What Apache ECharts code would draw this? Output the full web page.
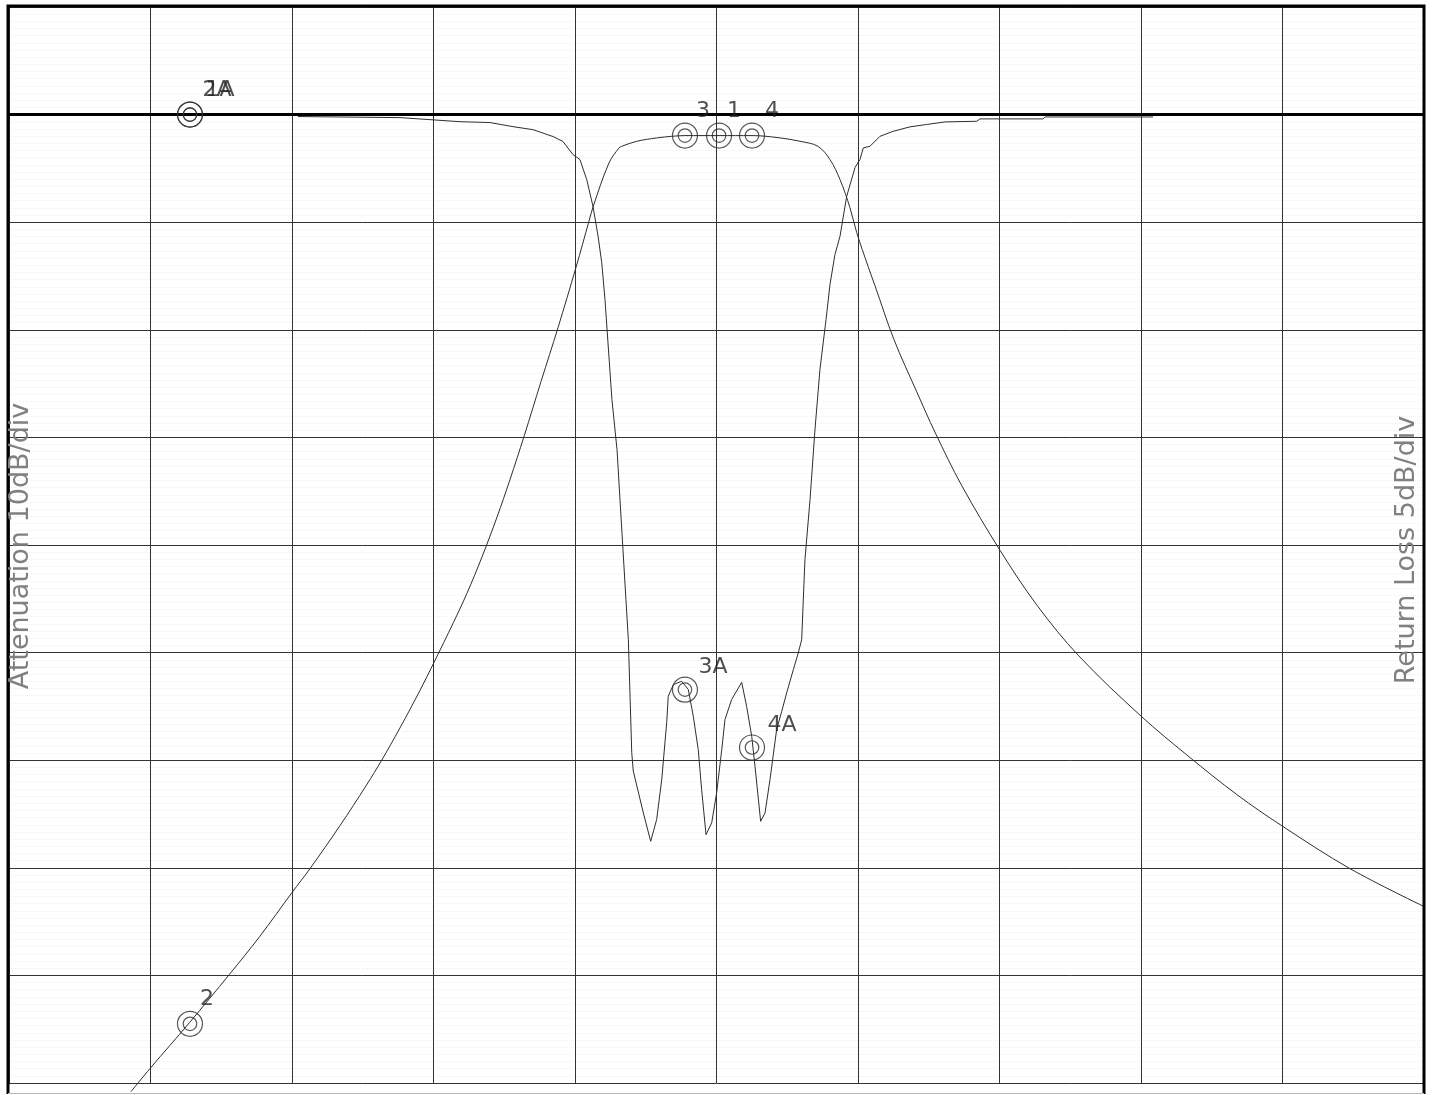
<!DOCTYPE html>
<html>
<head>
<meta charset="utf-8">
<style>
  html, body { margin: 0; padding: 0; background: #fff; }
  #chart { width: 1432px; height: 1095px; }
</style>
<script src="https://cdn.jsdelivr.net/npm/echarts@6/dist/echarts.min.js"></script>
</head>
<body>
<div id="chart"></div>
<script>
// x in divisions (10 horizontal divisions), y in dB
// Attenuation (S21), 10 dB/div, 0 dB at the reference line
const s21 = [
  [0.862,-90.8],[1.0,-88.6],[1.275,-84.4],[1.558,-79.9],[1.771,-76.4],[2.0,-72.3],
  [2.126,-70.1],[2.338,-66.1],[2.527,-62.3],[2.634,-60.0],[2.763,-57.0],[2.905,-53.5],
  [3.004,-50.9],[3.141,-47.2],[3.236,-44.5],[3.343,-41.1],[3.449,-37.4],[3.541,-33.9],
  [3.640,-29.9],[3.760,-24.8],[3.880,-19.8],[4.007,-14.2],[4.099,-9.9],[4.127,-8.6],
  [4.24,-4.5],[4.311,-3.1],[4.33,-2.95],[4.436,-2.48],[4.577,-2.17],[4.683,-2.02],
  [4.777,-1.95],[5.018,-1.95],[5.251,-1.95],[5.435,-2.14],[5.59,-2.48],[5.717,-2.95],
  [5.802,-4.18],[5.873,-6.04],[5.943,-8.64],[5.991,-10.97],[6.071,-14.1],[6.12,-15.9],
  [6.254,-20.9],[6.413,-25.7],[6.547,-29.6],[6.734,-34.5],[7.004,-40.5],[7.265,-45.6],
  [7.56,-50.3],[8.0,-55.9],[8.332,-59.6],[8.678,-63.2],[8.996,-66.1],[9.48,-70.1],
  [10.0,-73.6]
];
// Return loss (S11), 5 dB/div
const s11 = [
  [2.042,-0.09],[2.763,-0.14],[3.187,-0.33],[3.399,-0.37],[3.562,-0.56],[3.703,-0.70],
  [3.845,-1.02],[3.915,-1.25],[3.986,-1.86],[4.035,-2.09],[4.083,-3.02],[4.127,-4.26],
  [4.163,-5.65],[4.189,-6.88],[4.212,-8.6],[4.261,-13.24],[4.297,-15.57],[4.339,-20.21],
  [4.360,-22.54],[4.377,-24.4],[4.401,-29.65],[4.412,-30.51],[4.483,-32.45],[4.535,-33.77],
  [4.577,-32.76],[4.613,-30.9],[4.648,-28.25],[4.659,-27.03],[4.695,-26.49],[4.754,-26.33],
  [4.801,-26.72],[4.836,-27.96],[4.871,-29.51],[4.895,-31.37],[4.926,-33.46],[4.966,-32.91],
  [5.001,-31.52],[5.037,-29.51],[5.06,-28.11],[5.107,-27.18],[5.178,-26.38],[5.213,-27.5],
  [5.249,-28.89],[5.272,-30.28],[5.312,-32.84],[5.343,-32.45],[5.378,-30.9],[5.425,-28.58],
  [5.461,-27.73],[5.496,-26.87],[5.543,-25.79],[5.578,-25.01],[5.602,-24.4],[5.625,-20.68],
  [5.661,-17.89],[5.696,-14.64],[5.731,-11.85],[5.774,-9.53],[5.802,-7.9],[5.837,-6.51],
  [5.873,-5.65],[5.92,-3.8],[5.979,-2.46],[6.014,-2.09],[6.037,-1.55],[6.085,-1.47],
  [6.155,-1.01],[6.247,-0.78],[6.367,-0.57],[6.485,-0.46],[6.615,-0.34],[6.839,-0.31],
  [6.862,-0.2],[7.307,-0.2],[7.322,-0.11],[8.085,-0.11]
];
// markers
const s21Markers = [[1.279,-84.5,'2'],[4.777,-1.95,'3'],[5.018,-1.95,'1'],[5.251,-1.95,'4']];
const s11Markers = [[1.279,0,'2A'],[1.279,0,'1A'],[4.777,-26.72,'3A'],[5.251,-29.41,'4A']];
const leftTitle = 'Attenuation 10dB/div';
const rightTitle = 'Return Loss 5dB/div';

// label offsets (style)
const labelOffset = {'2':[17,0],'3':[18,0],'1':[15,0],'4':[20,0],'2A':[27,0],'1A':[30,0],'3A':[28,2],'4A':[30,2]};
const markerPath = 'path://M0,-12A12,12 0 1,1 0,12A12,12 0 1,1 0,-12ZM0,-6.5A6.5,6.5 0 1,1 0,6.5A6.5,6.5 0 1,1 0,-6.5Z';
const ink = '#2e2e2e';

function markerSeries(arr, yIdx) {
  return {
    type: 'scatter',
    yAxisIndex: yIdx,
    symbol: markerPath,
    symbolSize: 25,
    itemStyle: { color: 'transparent', borderColor: ink, borderWidth: 1.2 },
    data: arr.map(d => ({
      value: [d[0], d[1]],
      name: d[2],
      label: { offset: labelOffset[d[2]] }
    })),
    label: {
      show: true, position: 'top', distance: 0,
      formatter: p => p.name,
      fontFamily: 'DejaVu Sans', fontSize: 22, color: '#222'
    },
    z: 5
  };
}

const chart = echarts.init(document.getElementById('chart'));
const gridLine = { show: true, lineStyle: { color: '#333', width: 1 } };
const hidden = { axisLine: { show: false }, axisTick: { show: false }, axisLabel: { show: false } };
chart.setOption({
  animation: false,
  backgroundColor: '#fff',
  grid: { left: 9, right: 8, top: 7, bottom: 12 },
  xAxis: Object.assign({ type: 'value', min: 0, max: 10, interval: 1, splitLine: gridLine }, hidden),
  yAxis: [
    Object.assign({ type: 'value', min: -90, max: 10, interval: 10, splitLine: gridLine,
      minorTick: { show: false, splitNumber: 15 },
      minorSplitLine: { show: true, lineStyle: { color: '#f0f0f0', type: 'dotted', width: 1 } } }, hidden),
    Object.assign({ type: 'value', position: 'right', min: -45, max: 5, interval: 5, splitLine: { show: false } }, hidden)
  ],
  series: [
    {
      type: 'line', name: 'S21', data: s21, yAxisIndex: 0,
      showSymbol: false, clip: false, smooth: 0.35,
      lineStyle: { color: ink, width: 1 },
      markLine: {
        silent: true, symbol: ['none', 'none'], label: { show: false },
        lineStyle: { color: '#000', width: 3, type: 'solid' },
        data: [{ yAxis: 0 }]
      }
    },
    {
      type: 'line', name: 'S11', data: s11, yAxisIndex: 1,
      showSymbol: false, clip: false,
      lineStyle: { color: ink, width: 1 }
    },
    markerSeries(s21Markers, 0),
    markerSeries(s11Markers, 1)
  ],
  graphic: [
    { type: 'polyline', shape: { points: [[8, 1094], [8, 6], [1424, 6], [1424, 1094]] },
      style: { stroke: '#000', lineWidth: 3, fill: null }, z: 10 },
    { type: 'line', shape: { x1: 8, y1: 1093.5, x2: 1424, y2: 1093.5 },
      style: { stroke: '#bbb', lineWidth: 1 }, z: 10 },
    { type: 'text', x: 21, y: 546, rotation: Math.PI / 2,
      style: { text: leftTitle, x: 0, y: 0, align: 'center', verticalAlign: 'middle',
        font: '27px "DejaVu Sans ExtraLight", "DejaVu Sans"', fill: '#808080' }, z: 10 },
    { type: 'text', x: 1407, y: 550, rotation: Math.PI / 2,
      style: { text: rightTitle, x: 0, y: 0, align: 'center', verticalAlign: 'middle',
        font: '27px "DejaVu Sans ExtraLight", "DejaVu Sans"', fill: '#808080' }, z: 10 }
  ]
});
</script>
</body>
</html>
